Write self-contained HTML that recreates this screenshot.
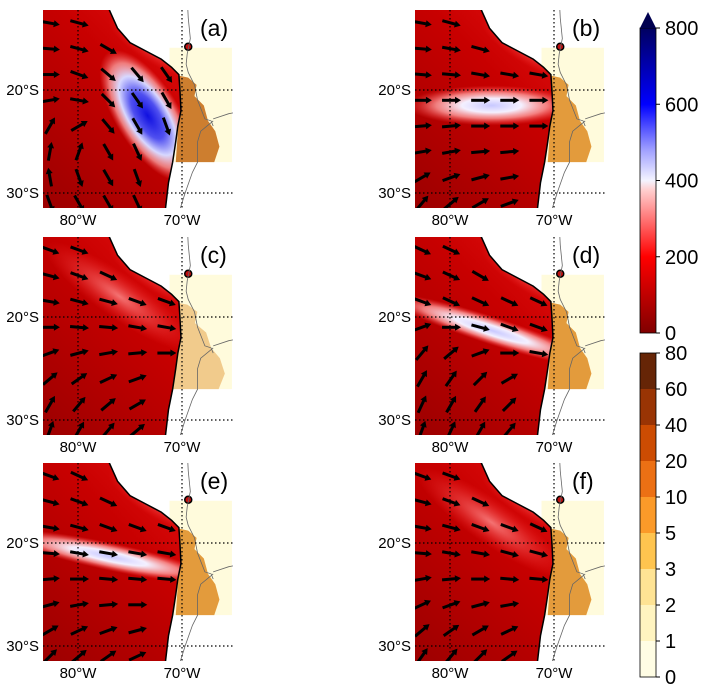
<!DOCTYPE html>
<html><head><meta charset="utf-8"><style>
body{margin:0;background:#fff;}
svg{display:block;font-family:"Liberation Sans",sans-serif;}
</style></head><body>
<svg id="fig" width="710" height="690" viewBox="0 0 710 690" xmlns="http://www.w3.org/2000/svg">
<defs>
<linearGradient id="seaBase" x1="0" y1="1" x2="1" y2="0">
<stop offset="0" stop-color="#9c0000"/><stop offset="0.55" stop-color="#c80000"/><stop offset="1" stop-color="#f01818"/>
</linearGradient>
<radialGradient id="blueBlob"><stop offset="0" stop-color="#1010e0"/><stop offset="0.35" stop-color="#5050f0"/><stop offset="0.6" stop-color="#d8d8ff"/><stop offset="0.8" stop-color="#ffb0b0" stop-opacity="0.7"/><stop offset="1" stop-color="#ff6060" stop-opacity="0"/></radialGradient>
<radialGradient id="whiteBlob"><stop offset="0" stop-color="#c8c8ff"/><stop offset="0.35" stop-color="#f4f0ff"/><stop offset="0.65" stop-color="#ffa0a0" stop-opacity="0.8"/><stop offset="1" stop-color="#ff4040" stop-opacity="0"/></radialGradient>
<radialGradient id="pinkBlob"><stop offset="0" stop-color="#ff9090" stop-opacity="0.8"/><stop offset="1" stop-color="#ff3030" stop-opacity="0"/></radialGradient>
<linearGradient id="cbar1" x1="0" y1="1" x2="0" y2="0">
<stop offset="0" stop-color="#800000"/><stop offset="0.25" stop-color="#ff0000"/><stop offset="0.47" stop-color="#ffd0d0"/><stop offset="0.5" stop-color="#f4f4ff"/><stop offset="0.6" stop-color="#a0a0ff"/><stop offset="0.75" stop-color="#0000ff"/><stop offset="1" stop-color="#000060"/>
</linearGradient>
</defs>
<g id="panels"></g>
<g id="cbars"></g>
</svg>
<script>
const NS="http://www.w3.org/2000/svg";
const labels=["(a)","(b)","(c)","(d)","(e)","(f)"];
const arrowLats=[-13.5,-16,-18.5,-21,-23.5,-26,-28.5,-31];
const arrowLons=[-82.7,-79.9,-77.1,-74.3,-71.5];
// wind direction (deg, counterclockwise from east) per panel, rows = arrowLats, cols = arrowLons
const dirA=[[-10,-15,-25,-30,-35],[-5,-15,-30,-40,-45],[0,-20,-40,-50,-55],[10,-10,-45,-55,-60],[60,30,-50,-60,-70],[80,70,-60,-65,-75],[100,-70,-60,-70,-75],[-70,-60,-60,-65,-70]];
const dirB=[[-10,-15,-15,-20,-25],[-5,-10,-15,-20,-25],[-5,-5,-10,-10,-10],[0,0,0,0,0],[5,5,0,0,0],[10,10,5,5,0],[30,20,15,10,10],[50,40,30,20,15]];
const dirC=[[-20,-20,-25,-30,-30],[-15,-20,-25,-25,-30],[-10,-15,-15,-20,-20],[0,-5,-5,-10,-10],[20,15,10,5,0],[40,35,25,20,10],[60,50,40,30,20],[70,60,50,40,30]];
const dirD=[[-25,-25,-30,-30,-35],[-20,-25,-30,-30,-30],[-20,-25,-25,-25,-25],[20,0,-15,-20,-20],[50,40,20,0,-10],[60,55,45,30,10],[65,60,55,45,30],[70,65,60,50,40]];
const dirE=[[-20,-25,-30,-30,-30],[-15,-20,-25,-25,-30],[-10,-15,-20,-20,-20],[-5,-10,-10,-10,-10],[5,0,-5,-5,-5],[15,10,5,0,0],[30,25,20,15,10],[45,40,35,25,20]];
const dirF=[[-20,-20,-25,-30,-30],[-15,-20,-25,-25,-30],[-10,-15,-20,-20,-25],[-5,-10,-10,-15,-15],[10,5,0,-5,-5],[25,20,15,10,5],[40,35,30,25,20],[55,50,45,35,30]];
const dirs=[dirA,dirB,dirC,dirD,dirE,dirF];
const coast=[[-77.3,-11],[-77,-12.2],[-76.2,-14],[-75,-15.4],[-73.5,-16.2],[-72,-17],[-71,-17.8],[-70.3,-18.5],[-70.2,-20],[-70.1,-22],[-70.4,-23.5],[-70.6,-25],[-70.9,-27],[-71.3,-29],[-71.6,-31.6]];
const border1=[[-69.5,-11],[-69.4,-13],[-69.2,-15],[-69.5,-16.5],[-69.6,-17.5],[-69.4,-18.3],[-68.8,-19.5],[-68.5,-21],[-67.8,-22.8],[-67.2,-23],[-67,-23.5]];
const border2=[[-67,-23],[-68.2,-24],[-68.5,-25],[-68.5,-27],[-69,-28],[-69.7,-30],[-70.2,-31.6]];
const border3=[[-67,-22.8],[-65.5,-22.3],[-64,-22]];
function coastLon(lat){for(let i=0;i<coast.length-1;i++){const a=coast[i],b=coast[i+1];if(lat<=a[1]&&lat>=b[1]){const t=(lat-a[1])/(b[1]-a[1]);return a[0]+t*(b[0]-a[0]);}}return -71.6;}
function el(t,a,p){const e=document.createElementNS(NS,t);for(const k in a)e.setAttribute(k,a[k]);p.appendChild(e);return e;}
const panelsG=document.getElementById('panels');
const origins=[[43,10],[415,10],[43,237],[415,237],[43,463],[415,463]];
origins.forEach((o,pi)=>{
 const x0=o[0],y0=o[1],W=190,H=198;
 const X=lon=>x0+35+(lon+80)*10.4, Y=lat=>y0+80+(-20-lat)*10.3;
 const g=el('g',{},panelsG);
 
 
 const cid='clip'+pi, oid='ocean'+pi;
 const cp=el('clipPath',{id:cid},g);el('rect',{x:x0,y:y0,width:W,height:H},cp);
 const gg=el('g',{'clip-path':'url(#'+cid+')'},g);
 // land
 const yr=el('rect',{x:X(-71.2),y:Y(-15.9),width:X(-65.2)-X(-71.2),height:Y(-27)-Y(-15.9),fill:'#fffbdc'},gg);
 
 const op=[[-70.3,-18.6],[-69.4,-18.8],[-68.6,-19.5],[-68.8,-20.6],[-67.9,-21.5],[-67.5,-23],[-66.8,-24],[-66.4,-25.5],[-66.9,-27],[-70.6,-27],[-70.4,-24],[-70.1,-21]];
 const big=(pi!==2);
 const pts=(big?op:op.map(p=>[p[0]+(p[0]+69)*0.2,p[1]])).map(p=>X(p[0])+','+Y(p[1])).join(' ');
 const orange=el('polygon',{points:pts,fill:pi===0?'#c8701c':'#e0902a',opacity:pi===2?0.45:0.9},gg);
 
 el('circle',{cx:X(-69.4),cy:Y(-15.8),r:3.5,fill:'#c01010',stroke:'#000','stroke-width':1.5},gg);
 // ocean
 const oc=el('clipPath',{id:oid},g);
 const oceanPts=[[-90,-10]].concat(coast).concat([[-71.6,-35],[-90,-35]]);
 el('polygon',{points:oceanPts.map(p=>X(p[0])+','+Y(p[1])).join(' ')},oc);
 const sea=el('g',{'clip-path':'url(#'+oid+')'},gg);
 
 el('rect',{x:x0,y:y0,width:W,height:H,fill:'url(#seaBase)'},sea);
 el('ellipse',{cx:X(-72),cy:Y(-16),rx:60,ry:18,fill:'url(#pinkBlob)',transform:`rotate(30 ${X(-72)} ${Y(-16)})`},sea);
 if(pi===0){el('ellipse',{cx:X(-73.3),cy:Y(-22.5),rx:75,ry:32,fill:'url(#blueBlob)',transform:`rotate(58 ${X(-73.3)} ${Y(-22.5)})`},sea);}
 if(pi===1){el('ellipse',{cx:X(-76),cy:Y(-21.5),rx:85,ry:20,fill:'url(#whiteBlob)'},sea);}
 if(pi===3){el('ellipse',{cx:X(-76),cy:Y(-21.3),rx:110,ry:14,fill:'url(#whiteBlob)',transform:`rotate(18 ${X(-76)} ${Y(-21.3)})`},sea);}
 if(pi===4){el('ellipse',{cx:X(-77),cy:Y(-21.3),rx:110,ry:14,fill:'url(#whiteBlob)',transform:`rotate(12 ${X(-77)} ${Y(-21.3)})`},sea);}
 if(pi===2||pi===5){el('ellipse',{cx:X(-76),cy:Y(-18),rx:90,ry:22,fill:'url(#pinkBlob)',transform:`rotate(35 ${X(-76)} ${Y(-18)})`},sea);}
 // coast & borders
 const c=el('polyline',{points:coast.map(p=>X(p[0])+','+Y(p[1])).join(' '),fill:'none',stroke:'#000','stroke-width':1.5},gg);
 
 [border1,border2,border3].forEach(b=>el('polyline',{points:b.map(p=>X(p[0])+','+Y(p[1])).join(' '),fill:'none',stroke:'#666','stroke-width':0.8},gg));
 // grid
 [-80,-70].forEach(l=>el('line',{x1:X(l),y1:y0,x2:X(l),y2:y0+H,stroke:'#000','stroke-width':1.2,'stroke-dasharray':'1.5,2.5'},gg));
 [-20,-30].forEach(l=>el('line',{x1:x0,y1:Y(l),x2:x0+W,y2:Y(l),stroke:'#000','stroke-width':1.2,'stroke-dasharray':'1.5,2.5'},gg));
 // arrows
 const d=dirs[pi];
 arrowLats.forEach((lat,ri)=>arrowLons.forEach((lon,ci)=>{
   if(lon>coastLon(lat)-0.8)return;
   const a=d[ri][ci],cx=X(lon),cy=Y(lat);
   const ar=el('g',{transform:`translate(${cx},${cy}) rotate(${-a})`},gg);
   
   
   el('line',{x1:-9,y1:0,x2:5,y2:0,stroke:'#000','stroke-width':3},ar);
   el('polygon',{points:'4,-3.5 10,0 4,3.5',fill:'#000'},ar);
 }));
 // labels
 const t=el('text',{x:x0+157,y:y0+26,'font-size':23},g);t.textContent=labels[pi];
 
 [['80°W',-80],['70°W',-70]].forEach(([s,l])=>{const e=el('text',{x:X(l),y:y0+H+17,'font-size':15,'text-anchor':'middle'},g);e.textContent=s;
   });
 [['20°S',-20],['30°S',-30]].forEach(([s,l])=>{const e=el('text',{x:x0-4,y:Y(l)+5,'font-size':15,'text-anchor':'end'},g);e.textContent=s;
   });
});
// colorbars
const cb=document.getElementById('cbars');
const cb1Ticks=[0,200,400,600,800];
const cb2Ticks=[0,1,2,3,5,10,20,40,60,80];
const cb2Colors=['#fffde4','#fff4c0','#fee394','#fec44f','#fb9a29','#ec7014','#cc4c02','#993404','#662506'];
const g1=el('g',{},cb);
el('rect',{x:640,y:28,width:16,height:305,fill:'url(#cbar1)',stroke:'#000','stroke-width':0.8},g1);
el('polygon',{points:'640,28 648,12 656,28',fill:'#000050'},g1);
cb1Ticks.forEach(v=>{const y=333-v/800*305;el('line',{x1:656,y1:y,x2:660,y2:y,stroke:'#000'},g1);
 const t=el('text',{x:665,y:y+7,'font-size':20},g1);t.textContent=v;});
const g2=el('g',{},cb);
const h=324/9;
cb2Colors.forEach((c,i)=>el('rect',{x:640,y:677-(i+1)*h,width:16,height:h,fill:c},g2));
el('rect',{x:640,y:353,width:16,height:324,fill:'none',stroke:'#000','stroke-width':0.8},g2);
cb2Ticks.forEach((v,i)=>{const y=677-i*h;el('line',{x1:656,y1:y,x2:660,y2:y,stroke:'#000'},g2);
 const t=el('text',{x:665,y:y+7,'font-size':20},g2);t.textContent=v;});
</script>
</body></html>
